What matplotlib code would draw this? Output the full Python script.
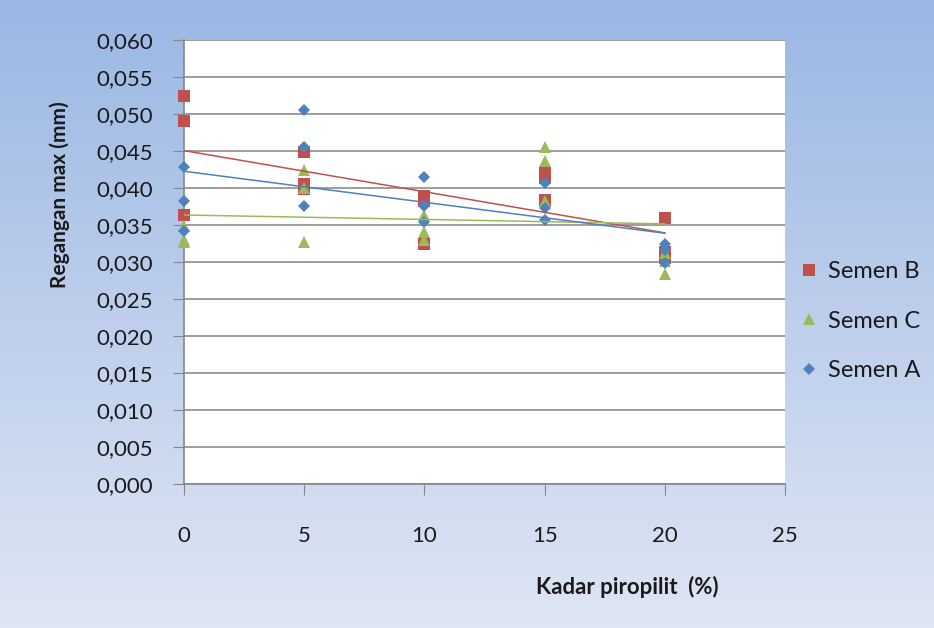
import numpy as np
import matplotlib
matplotlib.use("Agg")
import matplotlib.pyplot as plt
from matplotlib.ticker import FuncFormatter, MultipleLocator

plt.rcParams['font.family'] = ['Lato', 'DejaVu Sans']

# data
x_b = [0, 0, 0, 5, 5, 5, 10, 10, 10, 15, 15, 15, 20, 20, 20]
y_b = [0.0524, 0.0491, 0.0363, 0.0449, 0.0406, 0.0398, 0.0389, 0.0383, 0.0325,
       0.0420, 0.0413, 0.0384, 0.0359, 0.0314, 0.0306]
x_c = [0, 0, 0, 5, 5, 5, 10, 10, 10, 15, 15, 15, 20, 20, 20]
y_c = [0.0348, 0.0330, 0.0327, 0.0424, 0.0400, 0.0327, 0.0363, 0.0341, 0.0330,
       0.0456, 0.0436, 0.0383, 0.0312, 0.0302, 0.0284]
x_a = [0, 0, 0, 5, 5, 5, 10, 10, 10, 15, 15, 15, 20, 20, 20]
y_a = [0.0428, 0.0383, 0.0342, 0.0505, 0.0456, 0.0376, 0.0415, 0.0376, 0.0354,
       0.0407, 0.0373, 0.0357, 0.0325, 0.0316, 0.0298]

series = [
    ("Semen B", x_b, y_b, 's', '#c0504d', 8),
    ("Semen C", x_c, y_c, '^', '#9bbb59', 9),
    ("Semen A", x_a, y_a, 'D', '#4f81bd', 6.5),
]

fig = plt.figure(figsize=(9.34, 6.28), dpi=100)

# gradient background
bg = fig.add_axes([0, 0, 1, 1], zorder=-10)
grad = np.linspace(0, 1, 256).reshape(-1, 1)
top = np.array([0x9a, 0xb7, 0xe4]) / 255
bot = np.array([0xdf, 0xe6, 0xf4]) / 255
img = top[None, None, :] * (1 - grad[..., None]) + bot[None, None, :] * grad[..., None]
bg.imshow(img, aspect='auto', extent=[0, 1, 0, 1])
bg.axis('off')

ax = fig.add_axes([184/934, 1 - 484/628, (785-184)/934, (484-40)/628])
ax.set_facecolor('white')
ax.set_xlim(0, 25)
ax.set_ylim(0, 0.06)
ax.yaxis.set_major_locator(MultipleLocator(0.005))
ax.xaxis.set_major_locator(MultipleLocator(5))
ax.yaxis.set_major_formatter(FuncFormatter(lambda v, p: f"{v:.3f}".replace('.', ',')))
ax.grid(axis='y', color='#8c8c8c', linewidth=1.2)
ax.set_axisbelow(True)
for s in ['top', 'right']:
    ax.spines[s].set_visible(False)
for s in ['left', 'bottom']:
    ax.spines[s].set_color('#868686')
    ax.spines[s].set_linewidth(1.2)
ax.tick_params(axis='both', direction='out', length=8, color='#868686', labelsize=16,
               labelcolor='#1a1a1a')
ax.tick_params(axis='y', pad=14)
ax.tick_params(axis='x', pad=22)

for name, xs, ys, m, c, ms in series:
    ax.plot(xs, ys, linestyle='none', marker=m, color=c, markersize=ms, label=name,
            markeredgewidth=0, zorder=3, clip_on=False)

for name, xs, ys, m, c, ms in series:
    k, b = np.polyfit(xs, ys, 1)
    xx = np.array([0, 20])
    ax.plot(xx, k * xx + b, color=c, linewidth=1.1, zorder=4)

ax.set_ylabel("Regangan max (mm)", fontsize=15, fontweight='bold', color='#1a1a1a')
ax.yaxis.set_label_coords(70/601 - 184/601, (484 - 195) / 444)
ax.set_xlabel("Kadar piropilit  (%)", fontsize=16, fontweight='bold', color='#1a1a1a')
ax.xaxis.set_label_coords((627 - 184) / 601, -(576 - 484) / 444)

leg = ax.legend(loc='center left', frameon=False, fontsize=17, labelspacing=1.2,
                handletextpad=0.3, handlelength=1.0, borderaxespad=0,
                labelcolor='#1a1a1a')
leg.set_bbox_to_anchor((1.005, 1 - (321 - 40) / 444), transform=ax.transAxes)

fig.savefig("out.png", dpi=100)
